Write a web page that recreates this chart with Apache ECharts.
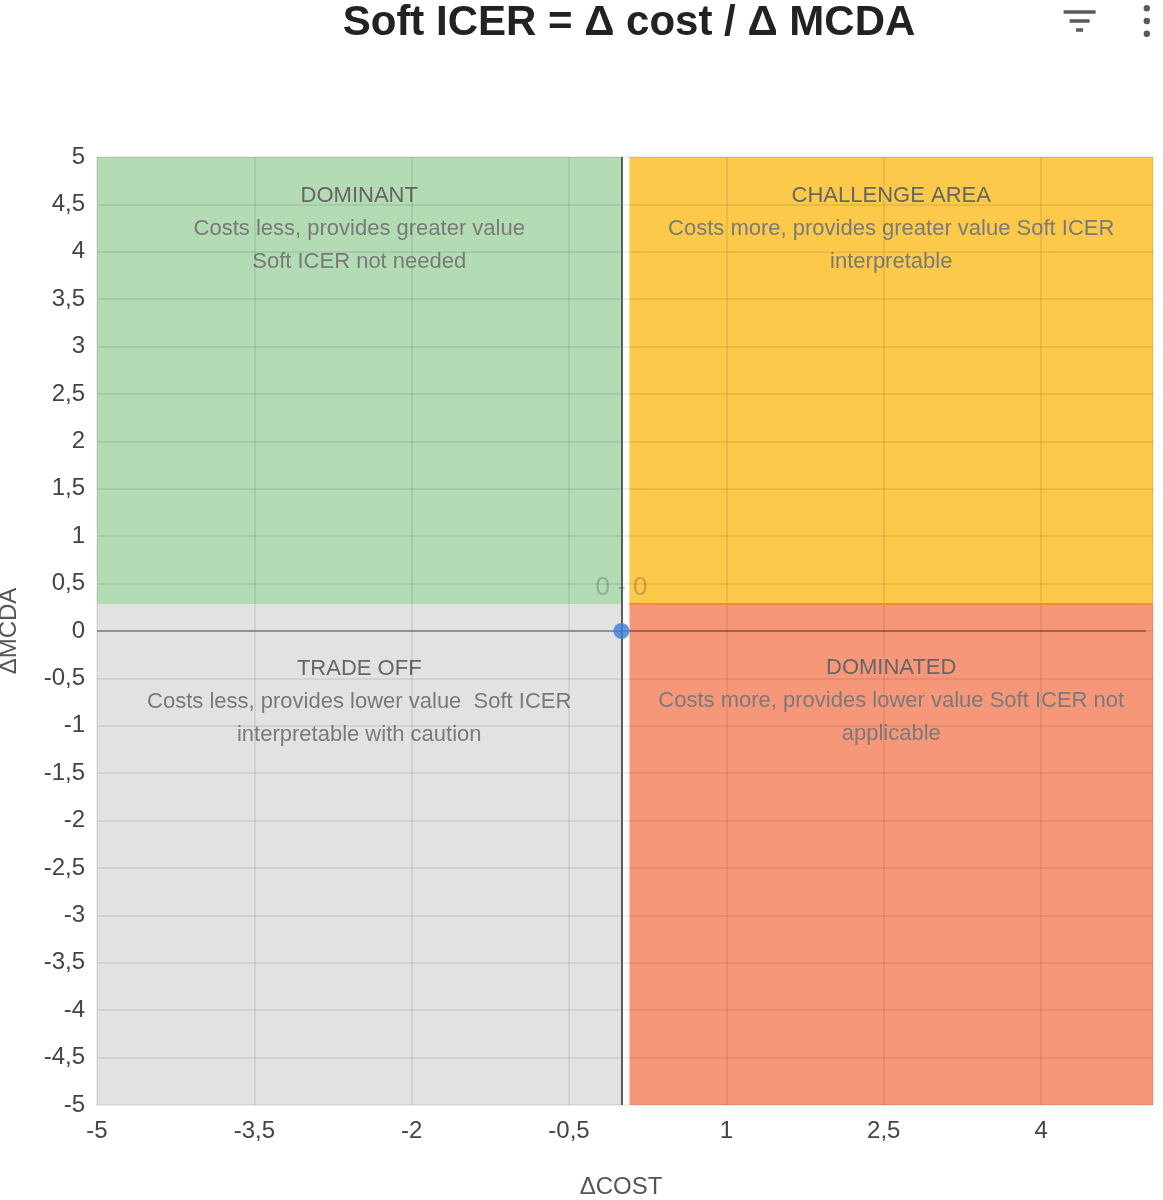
<!DOCTYPE html>
<html><head><meta charset="utf-8">
<script src="https://cdn.jsdelivr.net/npm/echarts@6/dist/echarts.min.js"></script>
<style>html,body{margin:0;padding:0;background:#fff}#c{width:1163px;height:1200px}</style>
</head><body><div id="c"></div>
<script>
// ---- data ----
const titleText = 'Soft ICER = Δ cost / Δ MCDA';
const xName = 'ΔCOST';
const yName = 'ΔMCDA';
const xRange = [-5, 5.067];
const xLineRange = [-5, 5];
const xInterval = 1.5;
const yRange = [-5, 5];
const yInterval = 0.5;
const points = [[0, 0]];
const quadrantNames = ['DOMINANT', 'CHALLENGE AREA', 'TRADE OFF', 'DOMINATED'];
const quadrantTexts = [
  'Costs less, provides greater value\nSoft ICER not needed',
  'Costs more, provides greater value Soft ICER\ninterpretable',
  'Costs less, provides lower value  Soft ICER\ninterpretable with caution',
  'Costs more, provides lower value Soft ICER not\napplicable'
];
const quadrantX = [[-5, 0], [0.076, 5.067], [-5, 0], [0.076, 5.067]];
const quadrantY = [[0.28, 5], [0.29, 5], [-5, 0.28], [-5, 0.29]];
const quadrantColors = ['#b3dbb4', '#fdc94b', '#e2e2e2', '#f7977a'];

// ---- chart ----
const FONT = 'Liberation Sans, Arial, sans-serif';
const fmt = v => String(v).replace('.', ',');
const chart = echarts.init(document.getElementById('c'));

const areaData = quadrantNames.map((n, i) => [
  {
    name: n,
    xAxis: quadrantX[i][0], yAxis: quadrantY[i][1],
    itemStyle: { color: quadrantColors[i], opacity: 1 },
    label: {
      show: true, position: 'insideTop', distance: i < 2 ? 22 : 48,
      formatter: '{t|' + n + '}\n{b|' + quadrantTexts[i].split('\n').join('}\n{b|') + '}',
      rich: {
        t: { fontSize: 22, lineHeight: 33, color: '#666', fontFamily: FONT, align: 'center' },
        b: { fontSize: 22, lineHeight: 33, color: '#7a7a7a', fontFamily: FONT, align: 'center' }
      }
    }
  },
  { xAxis: quadrantX[i][1], yAxis: quadrantY[i][0] }
]);

chart.setOption({
  animation: false,
  backgroundColor: '#fff',
  title: {
    text: titleText, left: 629, top: 2, padding: 0, textAlign: 'center',
    textStyle: { fontFamily: FONT, fontSize: 42, fontWeight: 'bold', color: '#222' }
  },
  toolbox: {
    right: -2, top: -10, itemSize: 32, itemGap: 48,
    iconStyle: { color: '#5a5a5a', borderWidth: 0 },
    emphasis: { iconStyle: { color: '#333', borderWidth: 0 } },
    feature: {
      myFilter: { show: true, title: ' ', icon: 'path://M0,0H32V3.5H0Z M6,9H26V12.5H6Z M12.5,18H19.5V21.5H12.5Z', onclick: function () {} },
      myMore: { show: true, title: ' ', icon: 'path://M0,3A3,3,0,1,1,6,3A3,3,0,1,1,0,3Z M0,15A3,3,0,1,1,6,15A3,3,0,1,1,0,15Z M0,27A3,3,0,1,1,6,27A3,3,0,1,1,0,27Z', onclick: function () {} }
    }
  },
  grid: { left: 97, right: 10, top: 157, bottom: 95, containLabel: false, outerBoundsMode: 'none' },
  xAxis: {
    type: 'value', min: xRange[0], max: xRange[1], interval: xInterval, z: 5,
    name: xName, nameLocation: 'middle', nameGap: 70, nameTextStyle: { fontFamily: FONT, fontSize: 24, color: '#555', padding: [0, 8, 0, 0] },
    axisLine: { show: false, onZero: false }, axisTick: { show: false },
    axisLabel: { formatter: fmt, showMaxLabel: false, margin: 14, fontFamily: FONT, fontSize: 24, color: '#444' },
    splitLine: { show: true, lineStyle: { color: 'rgba(0,0,0,0.07)', width: 2 } }
  },
  yAxis: {
    type: 'value', min: yRange[0], max: yRange[1], interval: yInterval, z: 5,
    name: yName, nameLocation: 'middle', nameGap: 76, nameRotate: 90,
    nameTextStyle: { fontFamily: FONT, fontSize: 24, color: '#555' },
    axisLine: { show: false, onZero: false }, axisTick: { show: false },
    axisLabel: { formatter: fmt, margin: 12, fontFamily: FONT, fontSize: 24, color: '#444' },
    splitLine: { show: true, lineStyle: { color: 'rgba(0,0,0,0.07)', width: 2 } }
  },
  series: [
    {
      type: 'scatter', data: [], z: 1, silent: true,
      markArea: { silent: true, data: areaData },
      markLine: {
        silent: true, symbol: 'none', label: { show: false },
        lineStyle: { color: '#f0894a', width: 2, type: 'solid' },
        data: [[{ coord: [quadrantX[1][0], quadrantY[1][0]] }, { coord: [quadrantX[1][1], quadrantY[1][0]] }]]
      }
    },
    {
      type: 'scatter', data: [], z: 10, silent: true,
      markLine: {
        silent: true, symbol: 'none', label: { show: false },
        data: [
          [{ coord: [xLineRange[0], 0] }, { coord: [xLineRange[1], 0], lineStyle: { color: 'rgba(0,0,0,0.3)', width: 2, type: 'solid' } }],
          { xAxis: 0, lineStyle: { color: '#5e5e5e', width: 2, type: 'solid' } }
        ]
      }
    },
    {
      type: 'scatter', data: points, z: 11, symbolSize: 16,
      itemStyle: { color: '#3b7dd8' },
      label: {
        show: true, position: 'top', distance: 22,
        formatter: p => p.value[0] + ' - ' + p.value[1],
        fontFamily: FONT, fontSize: 26, color: 'rgba(60,60,60,0.35)'
      }
    }
  ]
});
</script>
</body></html>
